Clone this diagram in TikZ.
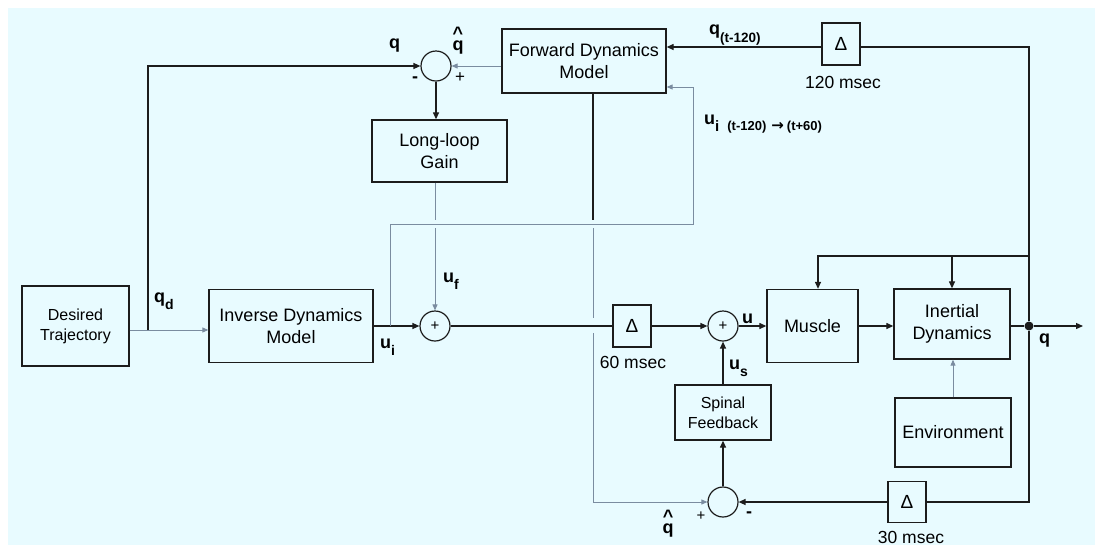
\documentclass[tikz,border=0pt]{standalone}
\usepackage{fontspec}
\setmainfont{Liberation Sans}
\newfontfamily\dejavu{DejaVu Sans}
\usetikzlibrary{arrows.meta}
\definecolor{bgc}{RGB}{232,251,255}
\definecolor{glc}{RGB}{122,140,160}
\definecolor{blc}{RGB}{28,28,28}
\newcommand{\sbs}[1]{\raisebox{-7pt}{\fontsize{14}{14}\selectfont\bfseries #1}}
\begin{document}
\begin{tikzpicture}[x=1pt,y=-1pt,
  box/.style={draw=blc,line width=1.3pt,inner sep=0pt,align=center,font=\fontsize{18}{22}\selectfont},
  sumc/.style={circle,draw=blc,line width=1.2pt,minimum size=30pt,inner sep=0pt,font=\fontsize{15}{15}\selectfont},
  delta/.style={box,minimum width=38pt,minimum height=42pt,font=\fontsize{19}{19}\selectfont},
  bl/.style={draw=blc,line width=1.25pt},
  gl/.style={draw=glc,line width=0.9pt},
  arr/.style={-{Triangle[length=7pt,width=6pt]}},
  garr/.style={-{Triangle[length=6pt,width=5pt]}},
  lab/.style={font=\bfseries\fontsize{18}{18}\selectfont,inner sep=0pt},
  msec/.style={font=\fontsize{17.5}{17.5}\selectfont,inner sep=0pt},
  hatq/.style={font=\bfseries\fontsize{18}{9}\selectfont,align=center,inner sep=0pt}
]
\useasboundingbox (0,0) rectangle (1101,547);
\fill[bgc] (8,8) rectangle (1095,545);

% blocks
\node[box,minimum width=107pt,minimum height=80pt,font=\fontsize{16}{20}\selectfont] (dt) at (75.5,326) {Desired\\Trajectory};
\node[box,minimum width=164pt,minimum height=73pt] (idm) at (291,326) {Inverse Dynamics\\Model};
\node[box,minimum width=164pt,minimum height=64pt] (fdm) at (584,61) {Forward Dynamics\\Model};
\node[box,minimum width=135pt,minimum height=62pt] (llg) at (439.5,151) {Long-loop\\Gain};
\node[sumc] (st) at (436,66) {};
\node[sumc] (sm) at (435,326) {+};
\node[delta] (d60) at (632,326) {Δ};
\node[sumc] (sc) at (723,326) {+};
\node[box,minimum width=91pt,minimum height=73pt] (mus) at (812.5,326) {Muscle};
\node[box,minimum width=116pt,minimum height=70pt] (id) at (952,324) {Inertial\\Dynamics};
\node[box,minimum width=116pt,minimum height=69pt] (env) at (953,432.5) {Environment};
\node[box,minimum width=96pt,minimum height=55pt,font=\fontsize{16}{20}\selectfont] (sf) at (723,412.5) {Spinal\\Feedback};
\node[sumc] (sb) at (723,502) {};
\node[delta,minimum height=41pt] (d30) at (907,502) {Δ};
\node[delta] (d120) at (841,44) {Δ};
\node[circle,fill=blc,minimum size=9pt,inner sep=0pt] (dot) at (1029,326) {};

% helper coordinates
\coordinate (qd) at (148,330);
\coordinate (br) at (390,326);
\coordinate (tf) at (1029,256);
\coordinate (out) at (1083,326);

% forward path
\draw[gl,garr] ([yshift=-4pt]dt.east) -- ([yshift=-4pt]idm.west);
\draw[bl,arr] (qd) |- (st.west);
\draw[bl,arr] (idm.east) -- (sm.west);
\draw[bl] (sm.east) -- (d60.west);
\draw[bl,arr] (d60.east) -- (sc.west);
\draw[bl,arr] (sc.east) -- (mus.west);
\draw[bl,arr] (mus.east) -- (mus.east -| id.west);
\draw[bl] (id.east |- dot) -- (dot);
\draw[bl,arr] (dot) -- (out);

% efference copy to forward model
\draw[gl,garr] (br) -- (390,224) -- (693,224) |- ([yshift=-26pt]fdm.east);

% long loop
\draw[gl,garr] (fdm.west |- st.east) -- (st.east);
\draw[bl,arr] (st.south) -- (st.south |- llg.north);
\draw[gl] (sm.north |- llg.south) -- (sm.north |- 0,220);
\draw[gl,garr] (sm.north |- 0,228) -- (sm.north);

% delayed feedback 120
\draw[bl] (dot) |- ([yshift=-3pt]d120.east);
\draw[bl,arr] ([yshift=-3pt]d120.west) -- ([yshift=14pt]fdm.east);

% state to muscle & inertial dynamics
\draw[bl,arr] (tf) -| ([xshift=5.5pt]mus.north);
\draw[bl,arr] (id.north |- tf) -- (id.north);

% spinal loop
\draw[bl] (dot) |- (d30.east);
\draw[bl,arr] (d30.west) -- (sb.east);
\draw[bl] ([xshift=9pt]fdm.south) -- (593,220);
\draw[gl] (593,228) -- (593,318);
\draw[gl,garr] (593,333) |- (sb.west);
\draw[bl,arr] (sb.north) -- (sf.south);
\draw[bl,arr] (sf.north) -- (sc.south);
\draw[gl,garr] (env.north) -- (env.north |- id.south);

% labels
\node[lab,anchor=base west] at (389,48) {q};
\node[hatq,anchor=south] at (458,54) {\textasciicircum\\q};
\node[lab] at (415,80) {-};
\node[font=\fontsize{17}{17}\selectfont,inner sep=0pt] at (460,78) {+};
\node[lab,anchor=base west] at (154,302) {q\sbs{d}};
\node[lab,anchor=base west] at (380,348) {u\sbs{i}};
\node[lab,anchor=base west] at (443,282) {u\sbs{f}};
\node[msec] at (633,362) {60 msec};
\node[lab,anchor=base west] at (742,323) {u};
\node[lab,anchor=base west] at (729,369) {u\sbs{s}};
\node[lab,anchor=base west] at (1039,343) {q};
\node[lab,anchor=base west] at (709,34) {q\raisebox{-8pt}{\fontsize{13.5}{13.5}\selectfont\bfseries (t-120)}};
\node[msec] at (843,82) {120 msec};
\node[lab,anchor=base west] at (704,124) {u\raisebox{-7pt}{\fontsize{15}{15}\selectfont\bfseries i}\raisebox{-6pt}{\fontsize{13}{13}\selectfont\bfseries\hspace{8pt}(t-120)\hspace{5pt}{\dejavu\fontsize{15}{15}\selectfont →}\hspace{3pt}(t+60)}};
\node[hatq,anchor=south] at (668,537) {\textasciicircum\\q};
\node[font=\fontsize{15}{15}\selectfont,inner sep=0pt] at (701,516) {+};
\node[lab] at (749,515) {-};
\node[msec] at (911,537) {30 msec};
\end{tikzpicture}
\end{document}
